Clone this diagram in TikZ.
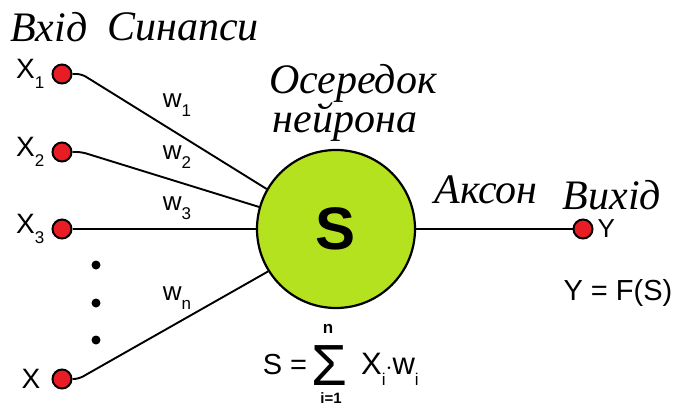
\documentclass[tikz,border=0pt]{standalone}
\usepackage{fontspec}
\setmainfont{Liberation Serif}
\setsansfont{Liberation Sans}
\usetikzlibrary{positioning}
\definecolor{somagreen}{RGB}{180,226,30}
\definecolor{synred}{RGB}{232,28,36}
\newcommand{\lowidx}[1]{\raisebox{-0.35em}{\fontsize{17}{17}\selectfont #1}}

\begin{document}
\begin{tikzpicture}[x=1pt,y=-1pt,
  port/.style={circle, draw=black, line width=2pt, fill=synred,
    minimum size=19pt, inner sep=0pt},
  wire/.style={line width=1.9pt, rounded corners=5pt},
  ukrtext/.style={font=\fontsize{42}{44}\selectfont\itshape, inner sep=0pt},
  sig/.style={font=\sffamily\fontsize{26}{28}\selectfont, inner sep=0pt},
  dotmark/.style={circle, fill=black, minimum size=9pt, inner sep=0pt}]
  \useasboundingbox (0,0) rectangle (681,407);
  % neuron body
  \node[circle, draw, line width=2.2pt, fill=somagreen, minimum size=158pt,
    inner sep=0pt, font=\sffamily\bfseries\fontsize{60}{62}\selectfont]
    (soma) at (336,229) {S};
  % inputs and output
  \node[port] (x1) at (62,74) {};
  \node[port] (x2) at (62,152) {};
  \node[port] (x3) at (62,229) {};
  \node[port] (xn) at (62,379) {};
  \node[port] (y) at (583,229) {};
  \node[dotmark] (d1) at (96,265) {};
  \node[dotmark] (d2) at (96,303) {};
  \node[dotmark] (d3) at (96,340) {};
  % synapses
  \draw[wire] (x1.east) -- ++(9,0) -- (soma.150);
  \draw[wire] (x2.east) -- ++(9,0) -- (soma.164);
  \draw[wire] (x3.east) -- (soma.west);
  \draw[wire] (xn.east) -- ++(6,0) -- (soma.212);
  \draw[wire] (soma.east) -- (y.west);
  % signal labels
  \node[sig, font=\sffamily\fontsize{28}{30}\selectfont, left=7pt of x1] (lx1) {X\lowidx{1}};
  \node[sig, font=\sffamily\fontsize{28}{30}\selectfont, left=7pt of x2] (lx2) {X\lowidx{2}};
  \node[sig, font=\sffamily\fontsize{28}{30}\selectfont, left=7pt of x3] (lx3) {X\lowidx{3}};
  \node[sig, font=\sffamily\fontsize{28}{30}\selectfont, left=11pt of xn] (lxn) {X};
  \node[sig, right=4pt of y] (ly) {Y};
  \node[sig] (w1) at (177,105) {w\lowidx{1}};
  \node[sig] (w2) at (177,157) {w\lowidx{2}};
  \node[sig] (w3) at (177,208) {w\lowidx{3}};
  \node[sig] (wn) at (177,298) {w\lowidx{n}};
  \node[sig, font=\sffamily\fontsize{29}{30}\selectfont] (fy) at (618,293) {Y = F(S)};
  % weighted sum
  \node[sig, font=\sffamily\fontsize{29}{30}\selectfont] (fs) at (285,365) {S =};
  \node[sig, font=\sffamily\fontsize{58}{58}\selectfont] (sum) at (329,366) {Σ};
  \node[sig, font=\sffamily\bfseries\fontsize{17}{17}\selectfont] (top) at (328,329) {n};
  \node[sig, font=\sffamily\bfseries\fontsize{15}{15}\selectfont] (bot) at (331,398) {i=1};
  \node[sig, font=\sffamily\fontsize{31}{32}\selectfont] (xw) at (390,369)
    {X\lowidx{i}$\cdot$w\lowidx{i}};
  % captions
  \node[ukrtext] (vhid) at (49,27) {Вхід};
  \node[ukrtext] (syn) at (183,27) {Синапси};
  \node[ukrtext] (core1) at (353,83) {Осередок};
  \node[ukrtext] (core2) at (345,122) {нейрона};
  \node[ukrtext] (akson) at (486,190) {Аксон};
  \node[ukrtext] (vyhid) at (612,195) {Вихід};
\end{tikzpicture}
\end{document}
